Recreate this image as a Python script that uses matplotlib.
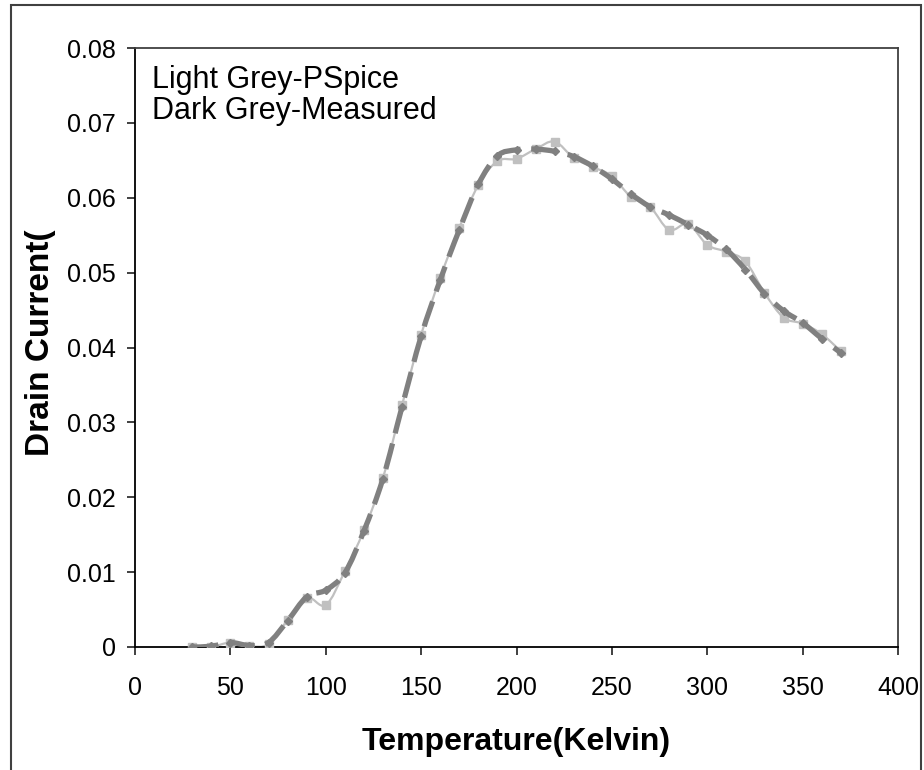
import numpy as np
import matplotlib
matplotlib.use("Agg")
import matplotlib.pyplot as plt
from matplotlib.path import Path
from matplotlib.patches import PathPatch, Rectangle

# Data
temps = [30, 40, 50, 60, 70, 80, 90, 100, 110, 120, 130, 140, 150, 160, 170, 180,
         190, 200, 210, 220, 230, 240, 250, 260, 270, 280, 290, 300, 310, 320, 330,
         340, 350, 360, 370]
pspice = [0.0, 0.0, 0.0006, 0.0001, 0.0004, 0.0036, 0.0066, 0.0056, 0.0101, 0.0156,
          0.0226, 0.0323, 0.0417, 0.0493, 0.0560, 0.0617, 0.0649, 0.0652, 0.0665, 0.0675,
          0.0653, 0.0641, 0.0629, 0.0601, 0.0588, 0.0557, 0.0565, 0.0537, 0.0528, 0.0515,
          0.0473, 0.0440, 0.0432, 0.0418, 0.0395]
measured = [0.0, 0.0001, 0.0006, 0.0002, 0.0006, 0.0035, 0.0067, 0.0076, 0.0099, 0.0155,
            0.0225, 0.0321, 0.0415, 0.0490, 0.0557, 0.0618, 0.0656, 0.0664, 0.0665, 0.0662,
            0.0655, 0.0642, 0.0625, 0.0605, 0.0588, 0.0577, 0.0564, 0.0550, 0.0531, 0.0504,
            0.0472, 0.0449, 0.0433, 0.0412, 0.0393]

x_ticks = [0, 50, 100, 150, 200, 250, 300, 350, 400]
y_ticks = [0, 0.01, 0.02, 0.03, 0.04, 0.05, 0.06, 0.07, 0.08]
y_tick_labels = ["0", "0.01", "0.02", "0.03", "0.04", "0.05", "0.06", "0.07", "0.08"]


def smooth_path(xs, ys):
    # Excel-like smoothed line: cubic bezier with catmull-rom handles
    xs = np.asarray(xs, float)
    ys = np.asarray(ys, float)
    verts = [(xs[0], ys[0])]
    codes = [Path.MOVETO]
    n = len(xs)
    for i in range(n - 1):
        p0 = np.array([xs[max(i - 1, 0)], ys[max(i - 1, 0)]])
        p1 = np.array([xs[i], ys[i]])
        p2 = np.array([xs[i + 1], ys[i + 1]])
        p3 = np.array([xs[min(i + 2, n - 1)], ys[min(i + 2, n - 1)]])
        c1 = p1 + (p2 - p0) / 6.0
        c2 = p2 - (p3 - p1) / 6.0
        verts += [tuple(c1), tuple(c2), tuple(p2)]
        codes += [Path.CURVE4] * 3
    return Path(verts, codes)


plt.rcParams["font.family"] = ["Liberation Sans", "DejaVu Sans"]

W, H = 924, 770
fig = plt.figure(figsize=(9.24, 7.70), dpi=100)
ax = fig.add_axes([135 / W, 1 - 647 / H, (898 - 135) / W, (647 - 48) / H])

light = "#c0c0c0"
dark = "#808080"

ax.add_patch(PathPatch(smooth_path(temps, pspice), facecolor="none",
                       edgecolor=light, lw=1.6, zorder=2))
ax.plot(temps, pspice, ls="none", marker="s", ms=6, color=light, zorder=3)

ax.add_patch(PathPatch(smooth_path(temps, measured), facecolor="none",
                       edgecolor=dark, lw=3.8, ls=(0, (5, 2)), zorder=4))
ax.plot(temps, measured, ls="none", marker="D", ms=4.5, color=dark, zorder=5)

ax.set_xlim(0, 400)
ax.set_ylim(0, 0.08)
ax.set_xticks(x_ticks)
ax.set_xticklabels([str(t) for t in x_ticks])
ax.set_yticks(y_ticks)
ax.set_yticklabels(y_tick_labels)
ax.tick_params(axis="both", labelsize=18, direction="out", length=6, width=1.2, color="#202020")
ax.tick_params(axis="x", pad=15)
ax.tick_params(axis="y", pad=8)
for side in ["left", "bottom"]:
    ax.spines[side].set_color("#000000")
    ax.spines[side].set_linewidth(1.3)
for side in ["top", "right"]:
    ax.spines[side].set_color("#404040")
    ax.spines[side].set_linewidth(1.3)

# legend-like notes
fig.text(152 / W, 1 - 88 / H, "Light Grey-PSpice", fontsize=22, va="baseline")
fig.text(152 / W, 1 - 119 / H, "Dark Grey-Measured", fontsize=22, va="baseline")

fig.text(516 / W, 1 - 750 / H, "Temperature(Kelvin)", fontsize=23, fontweight="bold",
         ha="center", va="baseline")
fig.text(25 / W, 1 - 343 / H, "Drain Current(", fontsize=24, fontweight="bold",
         ha="left", va="center", rotation=90)

# outer chart border
fig.patches.append(Rectangle((11 / W, -0.05), (921 - 11) / W, 1.05 - 5 / H,
                             transform=fig.transFigure, fill=False, edgecolor="#404040",
                             lw=1.5))

fig.savefig("out.png", dpi=100)
